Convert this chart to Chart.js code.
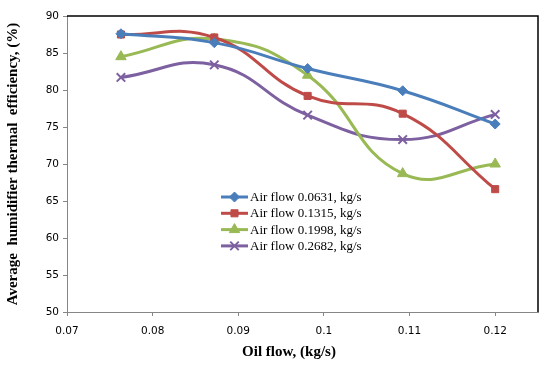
<!DOCTYPE html>
<html>
<head>
<meta charset="utf-8">
<script src="https://cdn.jsdelivr.net/npm/chart.js"></script>
<style>
  html, body { margin: 0; padding: 0; background: #fff; }
  #wrap { width: 550px; height: 369px; }
</style>
</head>
<body>
<div id="wrap"><canvas id="chart" width="550" height="369"></canvas></div>
<script>
// Oil flow (kg/s) on x, efficiency (%) on y
const oilFlow = [0.0763, 0.0872, 0.0981, 0.1092, 0.1200];
const air0631 = [87.6, 86.4, 82.9, 79.9, 75.4];
const air1315 = [87.5, 87.1, 79.2, 76.8, 66.6];
const air1998 = [84.5, 86.9, 82.0, 68.7, 70.0];
const air2682 = [81.7, 83.4, 76.6, 73.3, 76.7];
const seriesLabels = ['Air flow 0.0631, kg/s', 'Air flow 0.1315, kg/s', 'Air flow 0.1998, kg/s', 'Air flow 0.2682, kg/s'];
const xTicks = [0.07, 0.08, 0.09, 0.10, 0.11, 0.12];
const xTitle = 'Oil flow, (kg/s)';

const toPoints = vals => oilFlow.map((x, i) => ({ x: x, y: vals[i] }));

function series(label, vals, color, style, radius) {
    return {
        label: label,
        data: toPoints(vals),
        borderColor: color,
        backgroundColor: color,
        borderWidth: 3,
        pointStyle: style,
        pointRadius: radius,
        pointBorderWidth: style === 'crossRot' ? 2 : 1,
        tension: 0.45
    };
}

// frame top/right lines, x title and the legend inside the plot
const extras = {
    id: 'extras',
    afterDraw(chart) {
        const ctx = chart.ctx;
        const a = chart.chartArea;
        ctx.save();
        ctx.strokeStyle = '#000';
        ctx.lineWidth = 1.5;
        ctx.beginPath();
        ctx.moveTo(a.left, a.top);
        ctx.lineTo(a.right, a.top);
        ctx.lineTo(a.right, a.bottom);
        ctx.stroke();

        ctx.fillStyle = '#000';
        ctx.font = 'bold 15px "Liberation Serif"';
        ctx.textAlign = 'center';
        ctx.textBaseline = 'middle';
        ctx.fillText(xTitle, 289, 352);

        // legend
        const x0 = 221, x1 = 248, y0 = 197, dy = 16.3;
        ctx.font = '13px "Liberation Serif"';
        ctx.textAlign = 'left';
        chart.data.datasets.forEach((ds, i) => {
            const y = y0 + i * dy;
            ctx.strokeStyle = ds.borderColor;
            ctx.fillStyle = ds.borderColor;
            ctx.lineWidth = 3;
            ctx.beginPath();
            ctx.moveTo(x0, y);
            ctx.lineTo(x1, y);
            ctx.stroke();
            ctx.lineWidth = ds.pointBorderWidth;
            Chart.helpers.drawPoint(ctx, {
                pointStyle: ds.pointStyle,
                radius: ds.pointRadius,
                rotation: 0,
                borderWidth: ds.pointBorderWidth
            }, (x0 + x1) / 2, y);
            ctx.fillStyle = '#000';
            ctx.fillText(ds.label, x1 + 2, y + 0.5);
        });
        ctx.restore();
    }
};

new Chart(document.getElementById('chart'), {
    type: 'line',
    data: {
        datasets: [
            series(seriesLabels[0], air0631, '#4A7EBB', 'rectRot', 5),
            series(seriesLabels[1], air1315, '#BE4B48', 'rect', 5),
            series(seriesLabels[2], air1998, '#98B954', 'triangle', 6),
            series(seriesLabels[3], air2682, '#7D60A0', 'crossRot', 6)
        ]
    },
    options: {
        responsive: false,
        animation: false,
        layout: { padding: { top: 16, right: 12, left: 0, bottom: 0 } },
        plugins: {
            legend: { display: false },
            tooltip: { enabled: false }
        },
        scales: {
            x: {
                type: 'linear',
                min: 0.07,
                max: 0.125,
                afterFit(scale) { scale.height = 57; },
                afterBuildTicks(scale) {
                    scale.ticks = xTicks.map(v => ({ value: v }));
                },
                ticks: {
                    color: '#000',
                    font: { family: 'DejaVu Sans', size: 10.5 },
                    padding: 9,
                    callback: v => String(+v.toFixed(2))
                },
                grid: { drawOnChartArea: false, drawTicks: true, tickLength: 4, color: '#868686' },
                border: { color: '#868686', width: 1 }
            },
            y: {
                min: 50,
                max: 90,
                afterFit(scale) { scale.width = 67; },
                ticks: {
                    stepSize: 5,
                    color: '#000',
                    font: { family: 'DejaVu Sans', size: 10.5 },
                    padding: 4
                },
                grid: { drawOnChartArea: false, drawTicks: true, tickLength: 4, color: '#868686' },
                border: { color: '#868686', width: 1 },
                title: {
                    display: true,
                    text: 'Average  humidifier thermal  efficiency, (%)',
                    color: '#000',
                    font: { family: 'Liberation Serif', size: 15, weight: 'bold' },
                    padding: { bottom: 2 }
                }
            }
        }
    },
    plugins: [extras]
});
</script>
</body>
</html>
